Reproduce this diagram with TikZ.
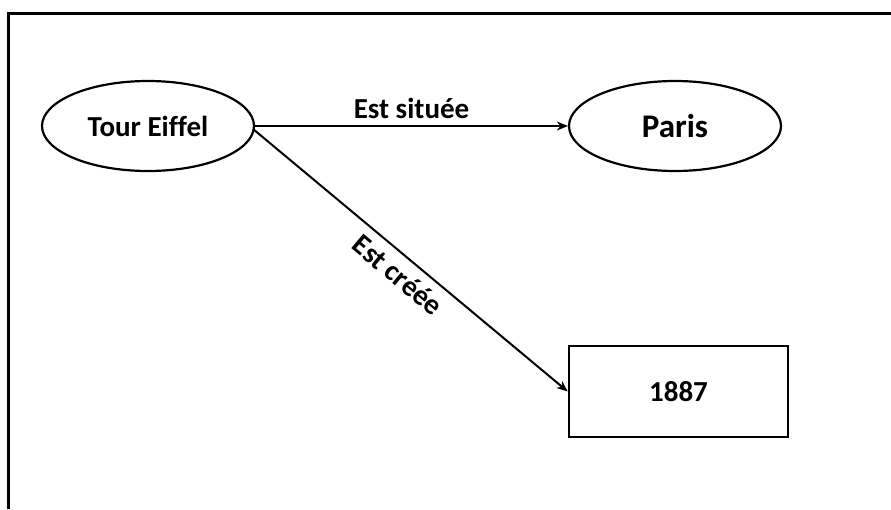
\documentclass[tikz,border=0pt]{standalone}
\usepackage{fontspec}
\setmainfont{Carlito}[Ligatures=NoCommon]
\usetikzlibrary{shapes.geometric,arrows.meta}
\begin{document}
\begin{tikzpicture}[x=1pt,y=-1pt,
  oval/.style={draw,ellipse,line width=2.2pt,minimum width=212pt,minimum height=90pt,inner sep=0pt,font=\bfseries\fontsize{29}{32}\selectfont},
  valbox/.style={draw,rectangle,line width=2.6pt,minimum width=219pt,minimum height=91pt,inner sep=0pt,font=\bfseries\fontsize{29}{32}\selectfont},
  rel/.style={line width=2pt,-{Stealth[length=11pt,width=9pt]}},
  lbl/.style={font=\bfseries\fontsize{29}{32}\selectfont}]
\useasboundingbox (0,0) rectangle (891,509);
\fill[white] (0,0) rectangle (891,509);
\draw[line width=3pt] (8,509) -- (8,13) -- (891,13);
\node[oval] (tour) at (148,126) {Tour Eiffel};
\node[oval,font=\bfseries\fontsize{33}{36}\selectfont] (paris) at (675,126) {Paris};
\node[valbox] (year) at (678.5,391.5) {1887};
\coordinate (start) at (253,129);
\draw[rel] (tour.east) -- node[lbl,above,inner sep=6pt] {Est située} (paris.west);
\draw[rel] (start) -- node[lbl,sloped,below,inner sep=8pt,pos=0.5] {Est créée} (year.west);
\end{tikzpicture}
\end{document}
